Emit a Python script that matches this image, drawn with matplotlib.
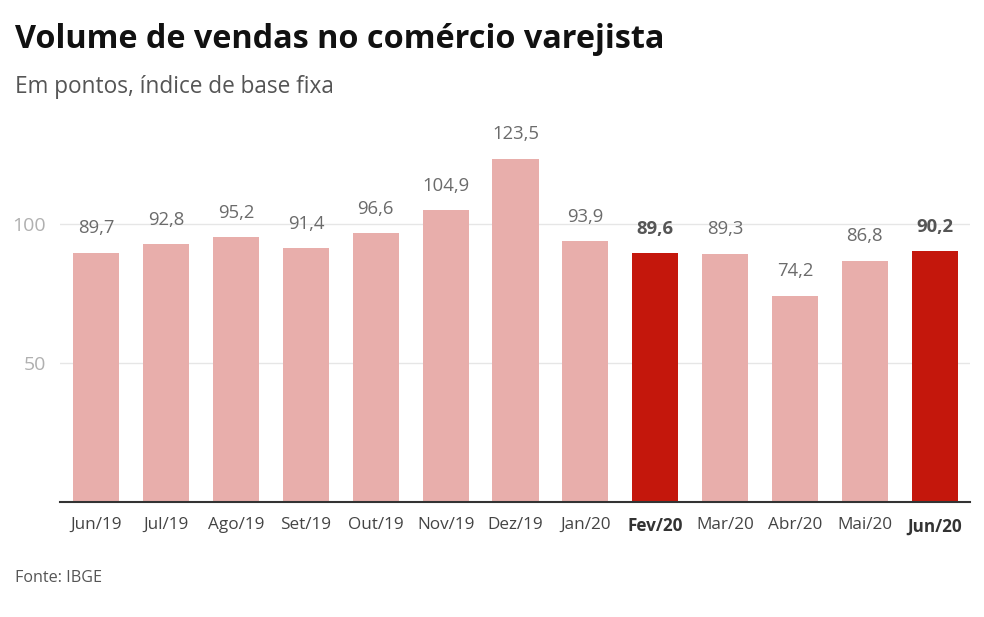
import numpy as np
import matplotlib
matplotlib.use('Agg')
import matplotlib.pyplot as plt

plt.rcParams['font.family'] = 'Open Sans'

meses = ['Jun/19', 'Jul/19', 'Ago/19', 'Set/19', 'Out/19', 'Nov/19', 'Dez/19',
         'Jan/20', 'Fev/20', 'Mar/20', 'Abr/20', 'Mai/20', 'Jun/20']
volume = [89.7, 92.8, 95.2, 91.4, 96.6, 104.9, 123.5,
          93.9, 89.6, 89.3, 74.2, 86.8, 90.2]
destaque = ['Fev/20', 'Jun/20']

cor_clara = '#e8aeab'
cor_forte = '#c4170c'

fig = plt.figure(figsize=(9.84, 6.17), dpi=100)
ax = fig.add_axes([0.061, 0.1864, 0.925, 0.619])

x = np.arange(len(meses))
cores = [cor_forte if m in destaque else cor_clara for m in meses]
ax.bar(x, volume, width=0.66, color=cores, zorder=2)

for xi, v, m in zip(x, volume, meses):
    forte = m in destaque
    ax.annotate(f'{v:.1f}'.replace('.', ','), (xi, v), xytext=(0, 11),
                textcoords='offset points', ha='center', va='bottom',
                fontsize=13.3, color='#555555' if forte else '#6b6b6b',
                fontweight='bold' if forte else 'normal')

ax.set_xlim(-0.52, len(meses) - 0.49)
ax.set_ylim(0, 137.4)
ax.set_yticks([50, 100])
ax.set_yticklabels(['50', '100'])
ax.yaxis.grid(True, color='#e6e6e6', linewidth=1, zorder=0)
ax.set_axisbelow(True)

ax.set_xticks(x)
ax.set_xticklabels(meses)
for lbl, m in zip(ax.get_xticklabels(), meses):
    if m in destaque:
        lbl.set_fontweight('bold')
        lbl.set_color('#333333')
    else:
        lbl.set_color('#444444')
ax.tick_params(axis='x', length=0, pad=11, labelsize=12.3)
ax.tick_params(axis='y', length=0, pad=10, labelsize=14, labelcolor='#b0b0b0')

for s in ['top', 'right', 'left']:
    ax.spines[s].set_visible(False)
ax.spines['bottom'].set_color('#333333')
ax.spines['bottom'].set_linewidth(1.5)

fig.text(0.015, 0.936, 'Volume de vendas no comércio varejista', fontsize=23.3,
         fontweight='bold', color='#111111', va='center')
fig.text(0.015, 0.859, 'Em pontos, índice de base fixa', fontsize=16.3,
         color='#555555', va='center')
fig.text(0.015, 0.063, 'Fonte: IBGE', fontsize=11.6, color='#555555', va='center')

fig.savefig('out.png', dpi=100)
